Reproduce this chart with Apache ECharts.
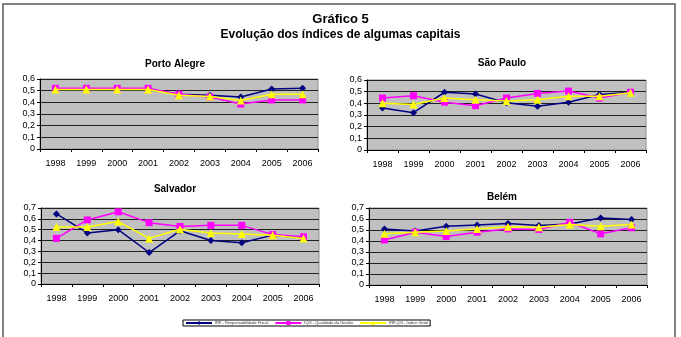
<!DOCTYPE html>
<html>
<head>
<meta charset="utf-8">
<script src="https://cdn.jsdelivr.net/npm/echarts@6/dist/echarts.min.js"></script>
<style>
  html, body { margin: 0; padding: 0; background: #fff; }
  #grafico { width: 681px; height: 337px; }
</style>
</head>
<body>
<div id="grafico"></div>
<script>
// Dados
var anos = ["1998", "1999", "2000", "2001", "2002", "2003", "2004", "2005", "2006"];
var nomesSeries = ["IRF - Responsabilidade Fiscal", "IQG - Qualidade da Gestão", "IRF-QG - Índice Geral"];
var capitais = ["Porto Alegre", "São Paulo", "Salvador", "Belém"];

var portoAlegreIRF = [0.51, 0.51, 0.51, 0.51, 0.47, 0.46, 0.445, 0.515, 0.52];
var portoAlegreIQG = [0.52, 0.52, 0.52, 0.52, 0.47, 0.445, 0.385, 0.42, 0.42];
var portoAlegreGeral = [0.51, 0.51, 0.51, 0.51, 0.46, 0.45, 0.415, 0.47, 0.47];

var saoPauloIRF = [0.36, 0.32, 0.495, 0.48, 0.405, 0.375, 0.41, 0.475, 0.495];
var saoPauloIQG = [0.445, 0.465, 0.41, 0.38, 0.445, 0.485, 0.505, 0.445, 0.495];
var saoPauloGeral = [0.40, 0.39, 0.445, 0.43, 0.42, 0.43, 0.46, 0.46, 0.49];

var salvadorIRF = [0.645, 0.47, 0.50, 0.29, 0.49, 0.40, 0.38, 0.45, 0.425];
var salvadorIQG = [0.42, 0.59, 0.665, 0.565, 0.53, 0.54, 0.54, 0.455, 0.435];
var salvadorGeral = [0.525, 0.525, 0.575, 0.42, 0.505, 0.47, 0.46, 0.45, 0.42];

var belemIRF = [0.51, 0.49, 0.535, 0.545, 0.56, 0.54, 0.555, 0.61, 0.595];
var belemIQG = [0.41, 0.48, 0.44, 0.48, 0.51, 0.505, 0.57, 0.465, 0.52];
var belemGeral = [0.465, 0.48, 0.49, 0.51, 0.53, 0.525, 0.55, 0.535, 0.55];

var maximos = [0.6, 0.6, 0.7, 0.7];

var dadosCapitais = [
  [portoAlegreIRF, portoAlegreIQG, portoAlegreGeral],
  [saoPauloIRF, saoPauloIQG, saoPauloGeral],
  [salvadorIRF, salvadorIQG, salvadorGeral],
  [belemIRF, belemIQG, belemGeral]
];

var fonte = "Liberation Sans, Arial, sans-serif";
var cores = ["#000080", "#ff00ff", "#ffff00"];
var simbolos = ["diamond", "rect", "triangle"];
var tamanhos = [7, 7, 8];

// Posição das áreas de plotagem
var grids = [
  { left: 40, top: 79, width: 278, height: 70 },
  { left: 367, top: 80, width: 279, height: 70 },
  { left: 41, top: 208, width: 278, height: 76 },
  { left: 369, top: 208, width: 278, height: 77 }
];
var titulos = [
  { text: capitais[0], x: 170, y: 54 },
  { text: capitais[1], x: 497, y: 53 },
  { text: capitais[2], x: 170, y: 179 },
  { text: capitais[3], x: 497, y: 187 }
];

var option = {
  backgroundColor: "#fff",
  animation: false,
  title: [
    {
      text: "Gráfico 5",
      left: "center",
      top: 8,
      textStyle: { fontFamily: fonte, fontSize: 13, fontWeight: "bold", color: "#000" }
    },
    {
      text: "Evolução dos índices de algumas capitais",
      left: "center",
      top: 24,
      textStyle: { fontFamily: fonte, fontSize: 12, fontWeight: "bold", color: "#000" }
    }
  ],
  legend: {
    left: 183,
    top: 320,
    data: nomesSeries,
    itemWidth: 26,
    itemHeight: 5,
    itemGap: 6,
    padding: [1, 2],
    borderColor: "#000",
    borderWidth: 1,
    textStyle: { fontFamily: fonte, fontSize: 4, color: "#333", padding: [0, 0, 0, -2] }
  },
  graphic: [
    {
      type: "rect",
      shape: { x: 3, y: 4, width: 672, height: 345 },
      style: { fill: null, stroke: "#808080", lineWidth: 2 },
      z: 0
    }
  ],
  grid: [],
  xAxis: [],
  yAxis: [],
  series: []
};

for (var i = 0; i < 4; i++) {
  option.title.push({
    text: titulos[i].text,
    left: titulos[i].x,
    top: titulos[i].y,
    textAlign: "center",
    textStyle: { fontFamily: fonte, fontSize: 10, fontWeight: "bold", color: "#000" }
  });
  option.grid.push({
    left: grids[i].left,
    top: grids[i].top,
    width: grids[i].width,
    height: grids[i].height,
    show: true,
    backgroundColor: "#c0c0c0",
    borderColor: "#909090",
    borderWidth: 1
  });
  option.xAxis.push({
    type: "category",
    gridIndex: i,
    data: anos,
    boundaryGap: true,
    axisLine: { lineStyle: { color: "#000", width: 1 } },
    axisTick: { show: true, length: 3, lineStyle: { color: "#000" } },
    axisLabel: { fontFamily: fonte, fontSize: 9, color: "#000", margin: 10, interval: 0 }
  });
  option.yAxis.push({
    type: "value",
    gridIndex: i,
    min: 0,
    max: maximos[i],
    interval: 0.1,
    axisLine: { show: true, lineStyle: { color: "#000", width: 1 } },
    axisTick: { show: true, length: 3, lineStyle: { color: "#000" } },
    splitLine: { show: true, lineStyle: { color: "#202020", width: 1 } },
    axisLabel: {
      fontFamily: fonte,
      fontSize: 9,
      color: "#000",
      margin: 5,
      formatter: function (v) { return String(Math.round(v * 10) / 10).replace(".", ","); }
    }
  });
  for (var s = 0; s < 3; s++) {
    option.series.push({
      name: nomesSeries[s],
      type: "line",
      xAxisIndex: i,
      yAxisIndex: i,
      data: dadosCapitais[i][s],
      symbol: simbolos[s],
      symbolSize: tamanhos[s],
      color: cores[s],
      lineStyle: { color: cores[s], width: 1.5 },
      itemStyle: { color: cores[s] },
      z: 2 + s
    });
  }
}

var chart = echarts.init(document.getElementById("grafico"));
chart.setOption(option);
</script>
</body>
</html>
